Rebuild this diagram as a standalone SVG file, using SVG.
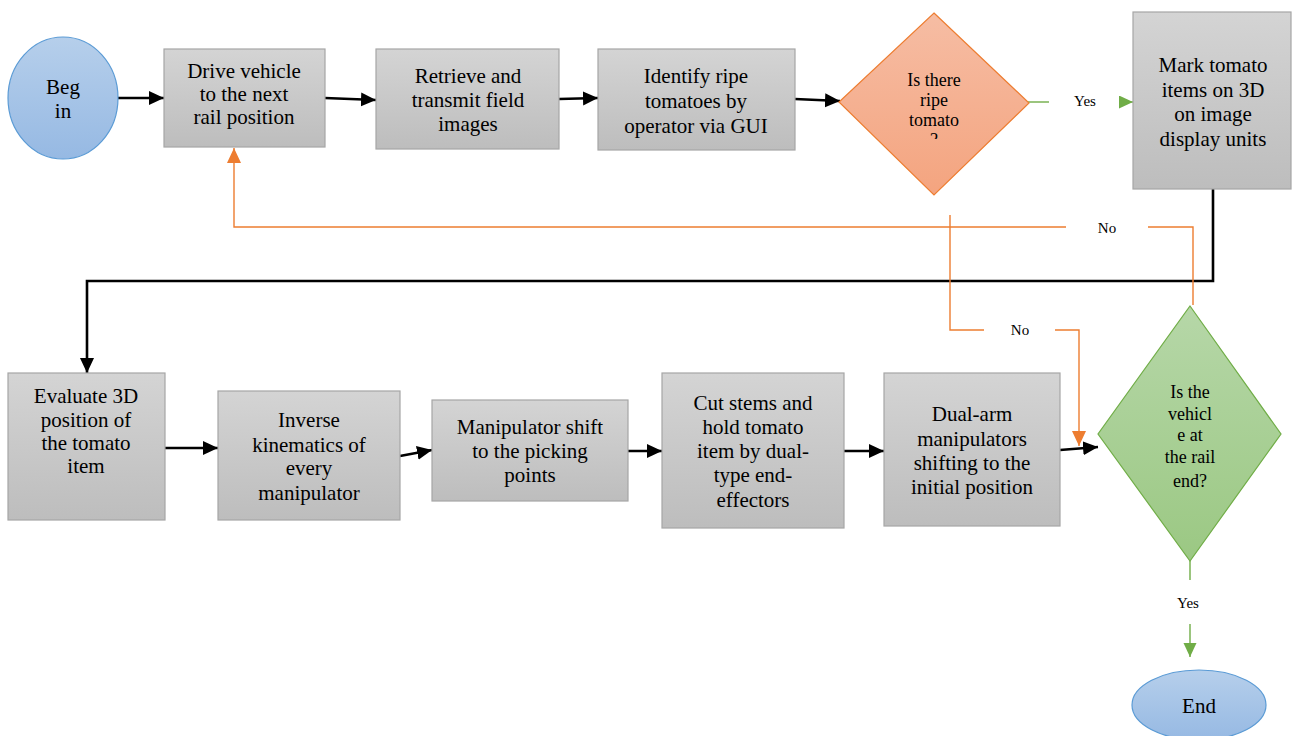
<svg xmlns="http://www.w3.org/2000/svg" width="1292" height="736" viewBox="0 0 1292 736">
<defs>
<style>
text{font-family:'Liberation Serif','Times New Roman',Times,'DejaVu Serif',serif}
.t{font-size:21px;fill:#000;text-anchor:middle}
.d{font-size:18px}
.l{font-size:15px;fill:#000;text-anchor:middle}
.box{fill:url(#gGray);stroke:#a6a6a6;stroke-width:1.2}
.blk{fill:none;stroke:#000;stroke-width:2.6}
.org{fill:none;stroke:#ed7d31;stroke-width:1.4}
.grn{fill:none;stroke:#70ad47;stroke-width:1.4}
</style>
<linearGradient id="gGray" x1="0" y1="0" x2="0" y2="1"><stop offset="0" stop-color="#d4d4d4"/><stop offset="1" stop-color="#bdbdbd"/></linearGradient>
<linearGradient id="gBlue" x1="0" y1="0" x2="0" y2="1"><stop offset="0" stop-color="#b6cfeb"/><stop offset="1" stop-color="#96b9e3"/></linearGradient>
<linearGradient id="gOrg" x1="0" y1="0" x2="0" y2="1"><stop offset="0" stop-color="#f6bda4"/><stop offset="1" stop-color="#f4a47f"/></linearGradient>
<linearGradient id="gGrn" x1="0" y1="0" x2="0" y2="1"><stop offset="0" stop-color="#b6d7a8"/><stop offset="1" stop-color="#9bc883"/></linearGradient>
<marker id="aB" markerUnits="userSpaceOnUse" markerWidth="16" markerHeight="16" refX="15" refY="7" orient="auto"><path d="M0,0 L15,7 L0,14 Z" fill="#000"/></marker>
<marker id="aO" markerUnits="userSpaceOnUse" markerWidth="16" markerHeight="16" refX="15" refY="7" orient="auto"><path d="M0,0 L15,7 L0,14 Z" fill="#ed7d31"/></marker>
<marker id="aG" markerUnits="userSpaceOnUse" markerWidth="16" markerHeight="16" refX="14" refY="6.5" orient="auto"><path d="M0,0 L14,6.5 L0,13 Z" fill="#70ad47"/></marker>
<clipPath id="cq"><rect x="840" y="0" width="190" height="139"/></clipPath>
</defs>

<g id="connectors">
<path class="blk" d="M118,98 H164" marker-end="url(#aB)"/>
<path class="blk" d="M325,98 L376,100" marker-end="url(#aB)"/>
<path class="blk" d="M559,99 L598,98" marker-end="url(#aB)"/>
<path class="blk" d="M795,99 L840,101" marker-end="url(#aB)"/>
<path class="grn" d="M1019,102 H1049"/>
<path class="grn" d="M1122,102 H1133" marker-end="url(#aG)"/>
<path class="blk" d="M1213,189 V281 H87 V373" marker-end="url(#aB)"/>
<path class="org" d="M1193,305 V227 H1148"/>
<path class="org" d="M1066,227 H234 V148" marker-end="url(#aO)"/>
<path class="org" d="M950,215 V330 H984"/>
<path class="org" d="M1055,330 H1079 V446" marker-end="url(#aO)"/>
<path class="blk" d="M165,448 H218" marker-end="url(#aB)"/>
<path class="blk" d="M400,456 L432,450" marker-end="url(#aB)"/>
<path class="blk" d="M628,451 H662" marker-end="url(#aB)"/>
<path class="blk" d="M844,451 H884" marker-end="url(#aB)"/>
<path class="blk" d="M1060,450 L1098,447" marker-end="url(#aB)"/>
<path class="grn" d="M1190,561 V580"/>
<path class="grn" d="M1190,624 V657" marker-end="url(#aG)"/>
<text class="l" x="1085" y="106">Yes</text>
<text class="l" x="1107" y="233">No</text>
<text class="l" x="1020" y="335">No</text>
<text class="l" x="1188" y="608">Yes</text>
</g>

<g id="begin">
<ellipse cx="63" cy="98" rx="55" ry="61" fill="url(#gBlue)" stroke="#5b9bd5" stroke-width="1.2"/>
<text class="t" x="63" y="94">Beg</text>
<text class="t" x="63" y="118">in</text>
</g>

<g id="drive">
<rect class="box" x="164" y="49" width="161" height="98"/>
<text class="t" x="244" y="78">Drive vehicle</text>
<text class="t" x="244" y="101">to the next</text>
<text class="t" x="244" y="124">rail position</text>
</g>

<g id="retrieve">
<rect class="box" x="376" y="49" width="183" height="100"/>
<text class="t" x="468" y="83">Retrieve and</text>
<text class="t" x="468" y="107">transmit field</text>
<text class="t" x="468" y="131">images</text>
</g>

<g id="identify">
<rect class="box" x="598" y="49" width="197" height="101"/>
<text class="t" x="696" y="83">Identify ripe</text>
<text class="t" x="696" y="108">tomatoes by</text>
<text class="t" x="696" y="133">operator via GUI</text>
</g>

<g id="ripe">
<polygon points="934,13 1029,103 934,195 839,102" fill="url(#gOrg)" stroke="#ed7d31" stroke-width="1.2"/>
<g clip-path="url(#cq)">
<text class="t d" x="934" y="86">Is there</text>
<text class="t d" x="934" y="106">ripe</text>
<text class="t d" x="934" y="126">tomato</text>
<text class="t d" x="934" y="146">?</text>
</g>
</g>

<g id="mark">
<rect class="box" x="1133" y="12" width="158" height="177"/>
<text class="t" x="1213" y="72">Mark tomato</text>
<text class="t" x="1213" y="97">items on 3D</text>
<text class="t" x="1213" y="121">on image</text>
<text class="t" x="1213" y="146">display units</text>
</g>

<g id="evaluate">
<rect class="box" x="8" y="373" width="157" height="147"/>
<text class="t" x="86" y="403">Evaluate 3D</text>
<text class="t" x="86" y="427">position of</text>
<text class="t" x="86" y="450">the tomato</text>
<text class="t" x="86" y="473">item</text>
</g>

<g id="inverse">
<rect class="box" x="218" y="391" width="182" height="129"/>
<text class="t" x="309" y="427">Inverse</text>
<text class="t" x="309" y="452">kinematics of</text>
<text class="t" x="309" y="475">every</text>
<text class="t" x="309" y="500">manipulator</text>
</g>

<g id="shift">
<rect class="box" x="432" y="400" width="196" height="101"/>
<text class="t" x="530" y="434">Manipulator shift</text>
<text class="t" x="530" y="458">to the picking</text>
<text class="t" x="530" y="482">points</text>
</g>

<g id="cut">
<rect class="box" x="662" y="373" width="182" height="155"/>
<text class="t" x="753" y="410">Cut stems and</text>
<text class="t" x="753" y="434">hold tomato</text>
<text class="t" x="753" y="458">item by dual-</text>
<text class="t" x="753" y="482">type end-</text>
<text class="t" x="753" y="507">effectors</text>
</g>

<g id="dualarm">
<rect class="box" x="884" y="373" width="176" height="153"/>
<text class="t" x="972" y="421">Dual-arm</text>
<text class="t" x="972" y="446">manipulators</text>
<text class="t" x="972" y="470">shifting to the</text>
<text class="t" x="972" y="494">initial position</text>
</g>

<g id="railend">
<polygon points="1190,306 1281,434 1190,561 1098,434" fill="url(#gGrn)" stroke="#70ad47" stroke-width="1.2"/>
<text class="t d" x="1190" y="398">Is the</text>
<text class="t d" x="1190" y="420">vehicl</text>
<text class="t d" x="1190" y="441">e at</text>
<text class="t d" x="1190" y="463">the rail</text>
<text class="t d" x="1190" y="487">end?</text>
</g>

<g id="end">
<ellipse cx="1199" cy="705" rx="67" ry="35" fill="url(#gBlue)" stroke="#5b9bd5" stroke-width="1.2"/>
<text class="t" x="1199" y="713">End</text>
</g>
</svg>
